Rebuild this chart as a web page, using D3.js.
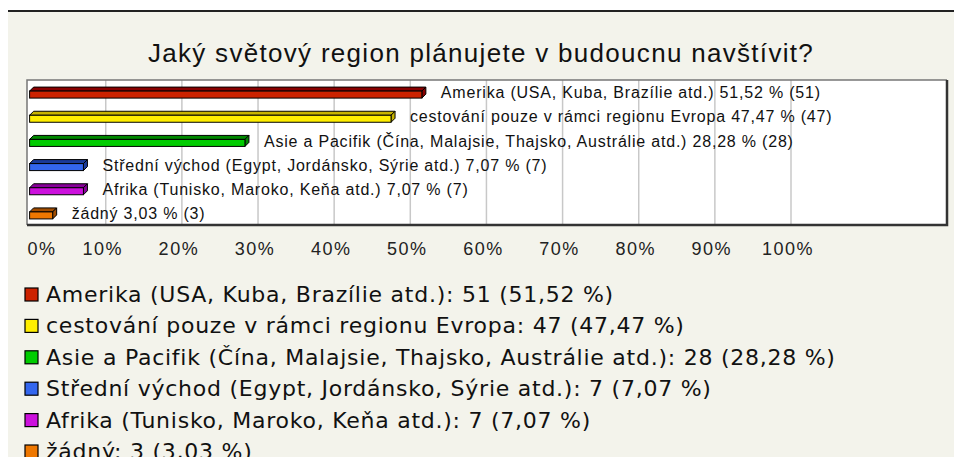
<!DOCTYPE html>
<html>
<head>
<meta charset="utf-8">
<script src="https://cdn.jsdelivr.net/npm/d3@7"></script>
<style>
  html, body { margin: 0; padding: 0; background: #ffffff; }
  svg { display: block; }
</style>
</head>
<body>
<svg id="chart" width="954" height="457"></svg>
<script>
// ---- data ----
const title = "Jaký světový region plánujete v budoucnu navštívit?";
const categories = [
  "Amerika (USA, Kuba, Brazílie atd.)",
  "cestování pouze v rámci regionu Evropa",
  "Asie a Pacifik (Čína, Malajsie, Thajsko, Austrálie atd.)",
  "Střední východ (Egypt, Jordánsko, Sýrie atd.)",
  "Afrika (Tunisko, Maroko, Keňa atd.)",
  "žádný"
];
const counts = [51, 47, 28, 7, 7, 3];
const percents = [51.52, 47.47, 28.28, 7.07, 7.07, 3.03];
const percentLabels = ["51,52", "47,47", "28,28", "7,07", "7,07", "3,03"];
const tickValues = [0, 10, 20, 30, 40, 50, 60, 70, 80, 90, 100];
const frontColors = ["#cc2200", "#ffee00", "#00cc00", "#3366ee", "#cc11dd", "#ee7700"];
const topColors   = ["#880000", "#c8b400", "#008800", "#1a3a99", "#880099", "#a04c00"];

// ---- layout ----
const svg = d3.select("#chart");
const W = 954, H = 457;
const plot = { left: 27, top: 80, right: 947, bottom: 225 };

svg.append("rect").attr("x", 0).attr("y", 0).attr("width", W).attr("height", H).attr("fill", "#ffffff");
svg.append("rect").attr("x", 8).attr("y", 11).attr("width", W - 8).attr("height", H - 11).attr("fill", "#f3f3eb");
svg.append("line").attr("x1", 8).attr("x2", W).attr("y1", 11).attr("y2", 11)
  .attr("stroke", "#222").attr("stroke-width", 2);

// title
svg.append("text")
  .attr("x", 481).attr("y", 62)
  .attr("text-anchor", "middle")
  .attr("font-family", "Liberation Sans, Arial, sans-serif")
  .attr("font-size", 26)
  .attr("letter-spacing", 1.3)
  .attr("fill", "#111")
  .text(title);

// scales
const x = d3.scaleLinear().domain([0, 100]).range([29.6, 791]);
const y = d3.scaleBand().domain(categories).range([plot.top, plot.bottom]);

// plot frame background
svg.append("rect")
  .attr("x", plot.left).attr("y", plot.top)
  .attr("width", plot.right - plot.left).attr("height", plot.bottom - plot.top)
  .attr("fill", "#ffffff");

// gridlines
svg.append("g").selectAll("line")
  .data(tickValues.filter(t => t > 0))
  .join("line")
  .attr("x1", d => x(d)).attr("x2", d => x(d))
  .attr("y1", plot.top).attr("y2", plot.bottom)
  .attr("stroke", "#c8c8c8").attr("stroke-width", 1.5);

// frame borders
svg.append("path")
  .attr("d", `M${plot.left},${plot.bottom} V${plot.top} H${plot.right}`)
  .attr("fill", "none").attr("stroke", "#777").attr("stroke-width", 1.5);
svg.append("path")
  .attr("d", `M${plot.left},${plot.bottom} H${plot.right} V${plot.top}`)
  .attr("fill", "none").attr("stroke", "#333").attr("stroke-width", 2.5);

// 3D bars
const d = 4, fh = 7;
const bars = svg.append("g").selectAll("g")
  .data(categories.map((c, i) => ({ c, i, v: percents[i] })))
  .join("g");

bars.each(function (b) {
  const g = d3.select(this);
  const cy = y(b.c) + y.bandwidth() / 2 + 1;
  const x0 = x(0), x1 = x(b.v);
  const yt = cy - 2, yb = yt + fh;
  g.append("path")
    .attr("d", `M${x0},${yt} L${x0 + d},${yt - d} L${x1 + d},${yt - d} L${x1},${yt} Z`)
    .attr("fill", topColors[b.i]).attr("stroke", "#000").attr("stroke-width", 1);
  g.append("path")
    .attr("d", `M${x1},${yt} L${x1 + d},${yt - d} L${x1 + d},${yb - d} L${x1},${yb} Z`)
    .attr("fill", topColors[b.i]).attr("stroke", "#000").attr("stroke-width", 1);
  g.append("rect")
    .attr("x", x0).attr("y", yt).attr("width", x1 - x0).attr("height", fh)
    .attr("fill", frontColors[b.i]).attr("stroke", "#000").attr("stroke-width", 1);
  g.append("text")
    .attr("x", x1 + 19).attr("y", cy + 1)
    .attr("dominant-baseline", "middle")
    .attr("font-family", "Liberation Sans, Arial, sans-serif")
    .attr("font-size", 16)
    .attr("letter-spacing", 0.8)
    .attr("fill", "#111")
    .text(`${b.c} ${percentLabels[b.i]} % (${counts[b.i]})`);
});

// x axis
const axis = d3.axisBottom(x).tickValues(tickValues).tickSize(0).tickFormat(t => t + "%");
const ag = svg.append("g").attr("transform", `translate(0,${plot.bottom})`).call(axis);
ag.select(".domain").remove();
ag.selectAll("text")
  .attr("font-family", "Liberation Sans, Arial, sans-serif")
  .attr("font-size", 18)
  .attr("letter-spacing", 1.5)
  .attr("fill", "#222")
  .attr("dy", null)
  .attr("y", 30)
  .attr("text-anchor", t => t === 0 ? "start" : "middle")
  .attr("x", t => t === 0 ? plot.left - x(0) : -3.5);

// legend
const lg = svg.append("g");
const rowH = 31.4, firstBase = 302;
categories.forEach((c, i) => {
  const base = firstBase + i * rowH;
  lg.append("rect")
    .attr("x", 25).attr("y", base - 14).attr("width", 13).attr("height", 13)
    .attr("fill", frontColors[i]).attr("stroke", "#000").attr("stroke-width", 1.2);
  lg.append("text")
    .attr("x", 46).attr("y", base)
    .attr("font-family", "DejaVu Sans, Verdana, sans-serif")
    .attr("font-size", 22)
    .attr("letter-spacing", 0.75)
    .attr("fill", "#111")
    .text(`${c}: ${counts[i]} (${percentLabels[i]} %)`);
});
</script>
</body>
</html>
